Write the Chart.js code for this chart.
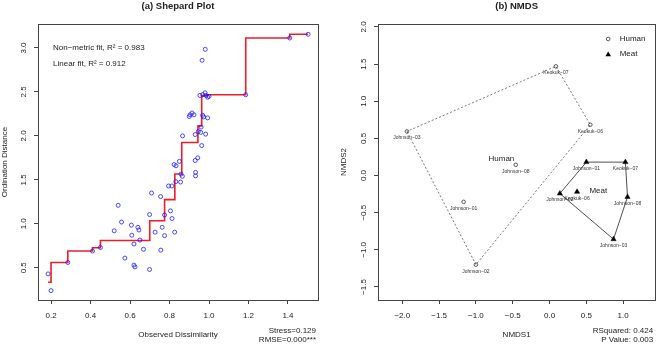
<!DOCTYPE html>
<html><head><meta charset="utf-8">
<script src="https://cdn.jsdelivr.net/npm/chart.js@4/dist/chart.umd.min.js"></script>
<style>
html,body{margin:0;padding:0;background:#fff;}
#wrap{position:relative;width:660px;height:344px;overflow:hidden;}
canvas{position:absolute;top:0;}
</style></head><body>
<div id="wrap"><canvas id="c1" width="330" height="344" style="left:0"></canvas><canvas id="c2" width="330" height="344" style="left:330px"></canvas></div>
<script>
// ---------- Shepard plot data ----------
const shepardX = [0.185,0.20,0.285,0.41,0.45,0.52,0.54,0.557,0.574,0.607,0.609,0.62,0.62,0.625,0.64,0.645,0.65,0.668,0.699,0.699,0.709,0.727,0.755,0.756,0.763,0.775,0.775,0.795,0.805,0.812,0.813,0.826,0.832,0.856,0.858,0.865,0.932,0.932,
  0.823,0.833,0.85,0.93,0.943,0.866,0.93,0.946,0.958,0.983,0.96,0.963,0.90,0.904,0.914,0.924,0.968,0.973,0.993,
  0.954,0.968,0.98,0.985,0.993,1.0,0.965,0.981,1.186,1.409,1.502];
const shepardY = [0.43,0.24,0.56,0.69,0.73,0.92,1.21,1.02,0.61,0.985,0.87,0.77,0.53,0.51,0.96,0.93,0.815,0.71,0.48,1.105,1.35,0.905,1.31,0.70,0.96,1.10,0.865,1.43,1.147,1.43,1.06,0.905,1.48,1.475,1.565,1.54,1.545,1.585,
  1.674,1.66,1.71,1.72,1.75,2.0,2.015,2.05,2.04,2.02,2.10,1.89,2.22,2.24,2.26,2.24,2.234,2.216,2.205,
  2.46,2.47,2.49,2.46,2.44,2.45,2.86,2.985,2.468,3.114,3.156];
const fitX = [0.185,0.20,0.285,0.41,0.45,0.70,0.775,0.827,0.862,0.944,0.963,0.99,1.186,1.409,1.502];
const fitY = [0.335,0.335,0.56,0.69,0.727,0.81,1.035,1.275,1.566,1.924,2.114,2.458,2.468,3.114,3.156];
const shepXTicks = [0.2,0.4,0.6,0.8,1.0,1.2,1.4];
const shepYTicks = [0.5,1.0,1.5,2.0,2.5,3.0];
const shepNotes = ['Non\u2212metric fit, R\u00b2 = 0.983','Linear fit, R\u00b2 = 0.912'];
const shepStats = ['Stress=0.129','RMSE=0.000***'];

// ---------- NMDS data ----------
const humanNames = ['Keokuk\u221207','Keokuk\u221206','Johnson\u221203','Johnson\u221208','Johnson\u221201','Johnson\u221202'];
const humanX = [0.086,0.554,-1.937,-0.459,-1.167,-1.0];
const humanY = [1.47,0.684,0.594,0.145,-0.354,-1.199];
const meatNames = ['Johnson\u221201','Keokuk\u221207','Johnson\u221202','Keokuk\u221206','Johnson\u221208','Johnson\u221203'];
const meatX = [0.5,1.03,0.14,0.374,1.059,0.869];
const meatY = [0.181,0.181,-0.242,-0.219,-0.287,-0.857];
const nmdsXTicks = [-2.0,-1.5,-1.0,-0.5,0.0,0.5,1.0];
const nmdsYTicks = [-1.5,-1.0,-0.5,0.0,0.5,1.0,1.5,2.0];
const nmdsStats = ['RSquared: 0.424','P Value: 0.003'];

const FONT = '"Liberation Sans", Arial, Helvetica, sans-serif';
Chart.defaults.font.family = FONT;
Chart.defaults.font.size = 8;
Chart.defaults.color = '#222';
Chart.defaults.animation = false;

const fmt = v => Number(v).toFixed(1).replace('-', '\u2212');
const pts = (xs, ys) => xs.map((x, i) => ({x, y: ys[i]}));

function hull(points) {
  const p = points.slice().sort((a, b) => a.x - b.x || a.y - b.y);
  const cross = (o, a, b) => (a.x - o.x) * (b.y - o.y) - (a.y - o.y) * (b.x - o.x);
  const lower = [], upper = [];
  for (const q of p) { while (lower.length >= 2 && cross(lower[lower.length-2], lower[lower.length-1], q) <= 0) lower.pop(); lower.push(q); }
  for (let i = p.length - 1; i >= 0; i--) { const q = p[i]; while (upper.length >= 2 && cross(upper[upper.length-2], upper[upper.length-1], q) <= 0) upper.pop(); upper.push(q); }
  upper.pop(); lower.pop();
  const h = lower.concat(upper);
  h.push(h[0]);
  return h;
}

function xScale(min, max, ticks, title) {
  return {
    type: 'linear', position: 'bottom', min, max,
    afterFit: s => { s.height = 44; },
    afterBuildTicks: s => { s.ticks = ticks.map(v => ({value: v})); },
    ticks: {callback: fmt, font: {size: 8}, color: '#222', padding: 7, maxRotation: 0, autoSkip: false},
    grid: {drawOnChartArea: false, drawTicks: true, tickLength: 4, color: '#444'},
    border: {display: false},
    title: {display: true, text: title, font: {size: 8}, color: '#222', padding: {top: 0, bottom: 4}}
  };
}
function yScale(min, max, ticks, title, width) {
  return {
    type: 'linear', position: 'left', min, max,
    afterFit: s => { s.width = width; },
    afterBuildTicks: s => { s.ticks = ticks.map(v => ({value: v})); },
    ticks: {callback: fmt, color: 'rgba(0,0,0,0)', font: {size: 8}, autoSkip: false},
    grid: {drawOnChartArea: false, drawTicks: true, tickLength: 4, color: '#444'},
    border: {display: false},
    title: {display: true, text: title, font: {size: 8}, color: '#222', padding: 0}
  };
}

const framePlugin = {
  id: 'frame',
  afterDraw(chart, args, opts) {
    const ctx = chart.ctx, a = chart.chartArea, ys = chart.scales.y;
    ctx.save();
    ctx.strokeStyle = '#444'; ctx.lineWidth = 1;
    ctx.strokeRect(Math.round(a.left) + 0.5, Math.round(a.top) + 0.5, Math.round(a.right - a.left), Math.round(a.bottom - a.top));
    // rotated y tick labels
    ctx.fillStyle = '#222'; ctx.font = '8px ' + FONT;
    ctx.textAlign = 'center'; ctx.textBaseline = 'middle';
    ys.ticks.forEach(t => {
      const py = ys.getPixelForValue(t.value);
      ctx.save(); ctx.translate(a.left - 14, py); ctx.rotate(-Math.PI / 2);
      ctx.fillText(fmt(t.value), 0, 0); ctx.restore();
    });
    // title
    ctx.font = 'bold 9.5px ' + FONT;
    ctx.fillText(opts.title, (a.left + a.right) / 2, 6);
    // bottom-right stats
    ctx.font = '8px ' + FONT; ctx.textAlign = 'right';
    opts.stats.forEach((s, i) => ctx.fillText(s, a.right - 2, 331 + i * 9));
    ctx.restore();
  }
};

// ---------- Chart 1: Shepard ----------
new Chart(document.getElementById('c1'), {
  type: 'scatter',
  data: {datasets: [
    {data: pts(shepardX, shepardY), pointStyle: 'circle', pointRadius: 2, borderColor: 'rgba(20,20,255,0.85)', backgroundColor: 'rgba(0,0,0,0)', borderWidth: 0.9, order: 1},
    {data: pts(fitX, fitY), showLine: true, stepped: 'after', borderColor: '#f01c28', borderWidth: 1.6, pointRadius: 0, fill: false, order: 2}
  ]},
  options: {
    responsive: false, devicePixelRatio: 1,
    layout: {padding: {left: 0, right: 12, top: 24, bottom: 0}},
    plugins: {legend: {display: false}, tooltip: {enabled: false},
      frame: {title: '(a) Shepard Plot', stats: shepStats}},
    scales: {
      x: xScale(0.134, 1.552, shepXTicks, 'Observed Dissimilarity'),
      y: yScale(0.133, 3.273, shepYTicks, 'Ordination Distance', 38)
    }
  },
  plugins: [framePlugin, {
    id: 'notes',
    afterDraw(chart) {
      const ctx = chart.ctx, a = chart.chartArea;
      ctx.save(); ctx.font = '8px ' + FONT; ctx.fillStyle = '#222';
      ctx.textAlign = 'left'; ctx.textBaseline = 'middle';
      shepNotes.forEach((s, i) => ctx.fillText(s, a.left + 15, a.top + 24 + i * 16));
      ctx.restore();
    }
  }]
});

// ---------- Chart 2: NMDS ----------
const humanPts = pts(humanX, humanY), meatPts = pts(meatX, meatY);
const centroid = arr => ({x: arr.reduce((s, p) => s + p.x, 0) / arr.length, y: arr.reduce((s, p) => s + p.y, 0) / arr.length});
new Chart(document.getElementById('c2'), {
  type: 'scatter',
  data: {datasets: [
    {label: 'Human', data: humanPts, pointStyle: 'circle', pointRadius: 1.8, borderColor: '#333', backgroundColor: 'rgba(0,0,0,0)', borderWidth: 0.8, order: 1},
    {label: 'Meat', data: meatPts, pointStyle: 'triangle', pointRadius: 3, borderColor: '#000', backgroundColor: '#000', borderWidth: 0.5, order: 1},
    {data: hull(humanPts), showLine: true, borderColor: '#555', borderWidth: 0.8, borderDash: [2, 2], pointRadius: 0, fill: false, order: 3},
    {data: hull(meatPts), showLine: true, borderColor: '#222', borderWidth: 0.8, pointRadius: 0, fill: false, order: 3}
  ]},
  options: {
    responsive: false, devicePixelRatio: 1,
    layout: {padding: {left: 9, right: 2, top: 24, bottom: 0}},
    plugins: {legend: {display: false}, tooltip: {enabled: false},
      frame: {title: '(b) NMDS', stats: nmdsStats}},
    scales: {
      x: xScale(-2.33, 1.435, nmdsXTicks, 'NMDS1'),
      y: yScale(-1.675, 2.04, nmdsYTicks, 'NMDS2', 39)
    }
  },
  plugins: [framePlugin, {
    id: 'labels',
    afterDraw(chart) {
      const ctx = chart.ctx, a = chart.chartArea, xs = chart.scales.x, ys = chart.scales.y;
      ctx.save();
      ctx.textAlign = 'center'; ctx.textBaseline = 'middle'; ctx.fillStyle = '#333';
      ctx.font = '5px ' + FONT;
      const lab = (names, arr) => names.forEach((n, i) => ctx.fillText(n, xs.getPixelForValue(arr[i].x), ys.getPixelForValue(arr[i].y) + 6.5));
      lab(humanNames, humanPts); lab(meatNames, meatPts);
      ctx.font = '8px ' + FONT; ctx.fillStyle = '#222';
      [['Human', centroid(humanPts)], ['Meat', centroid(meatPts)]].forEach(([t, c]) =>
        ctx.fillText(t, xs.getPixelForValue(c.x), ys.getPixelForValue(c.y)));
      // legend
      const lx = a.right - 47, ly = a.top + 15;
      ctx.strokeStyle = '#333'; ctx.lineWidth = 0.8;
      ctx.beginPath(); ctx.arc(lx, ly, 1.8, 0, Math.PI * 2); ctx.stroke();
      ctx.fillStyle = '#000';
      ctx.beginPath(); ctx.moveTo(lx, ly + 12.5); ctx.lineTo(lx + 2.8, ly + 17.2); ctx.lineTo(lx - 2.8, ly + 17.2); ctx.closePath(); ctx.fill();
      ctx.fillStyle = '#222'; ctx.textAlign = 'left';
      ctx.fillText('Human', lx + 11.5, ly);
      ctx.fillText('Meat', lx + 11.5, ly + 15);
      ctx.restore();
    }
  }]
});
</script></body></html>
